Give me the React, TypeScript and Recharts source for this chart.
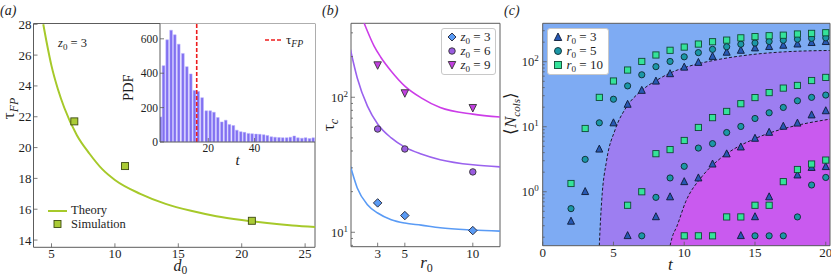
import React from "react";
import {
  ComposedChart,
  Line,
  Scatter,
  Bar,
  Area,
  XAxis,
  YAxis,
  CartesianGrid,
  ReferenceLine,
  ReferenceArea,
  Legend,
} from "recharts";

const SERIF = '"Liberation Serif", "Times New Roman", serif';
const INK = "#1e1e1e";
const FRAME = "#5c5c5c";

// (a) first-passage time against d0, z0 = 3
const theoryD = [4.35, 4.6, 5, 5.5, 6, 7, 8, 9, 10, 12, 14, 16, 18, 20, 22, 24, 25.8];
const theoryTau = [28.0, 26.9, 25.3, 23.8, 22.6, 20.8, 19.6, 18.6, 17.9, 17.0, 16.35, 15.9, 15.55, 15.3, 15.1, 14.95, 14.85];
const simD = [6.8, 10.8, 20.8];
const simTau = [21.7, 18.8, 15.25];
const dTicks = [5, 10, 15, 20, 25];
const tauTicks = [14, 16, 18, 20, 22, 24, 26, 28];

// inset: histogram of first-passage times
const pdfT = [
  -0.56, 0.73, 2.3, 4.0, 5.6, 7.3, 9.1, 10.8, 12.5, 14.1, 15.7, 17.4, 19.2, 20.9,
  22.5, 24.2, 25.9, 27.6, 29.2, 30.9, 32.4, 34.1, 35.7, 37.4, 39.0, 40.7, 42.3,
  44.0, 45.6, 47.3, 48.9, 50.6, 52.2, 53.9, 55.5, 57.2, 58.8, 60.5, 62.1, 63.8, 65.4,
];
const pdfCount = [
  146, 444, 594, 650, 623, 569, 515, 438, 396, 300, 294, 258, 181, 181, 173, 142,
  117, 127, 102, 96, 69, 60, 56, 50, 48, 46, 45, 42, 38, 30, 28, 26, 25, 25, 28,
  35, 24, 22, 25, 20, 24,
];
const tauFP = 15;
const pdfTicks = [0, 200, 400, 600];
const pdfTTicks = [20, 40];

// (b) tau_c against r0
const curveR = [1, 1.5, 2.25, 3, 4, 5, 6.2, 7.6, 10, 12];
const tauCZ3 = [30.8, 21.3, 16, 13.9, 12.4, 11.7, 11.3, 10.8, 10.4, 10.2];
const tauCZ6 = [225, 139, 86, 63.4, 50, 42.7, 38, 34.5, 31.6, 30.5];
const curveRZ9 = [2.0, 2.25, 2.74, 3.23, 4, 5, 6.2, 7.6, 10, 12];
const tauCZ9 = [355, 308, 239, 198, 156, 121, 99, 84, 75, 71.4];
const simR = [3, 5, 10];
const simZ3 = [16.5, 13.3, 10.3];
const simZ6 = [58.2, 41.4, 28];
const simZ9 = [174, 108, 84];
const rTicks = [3, 5, 10];
const tauCTicks = [8, 9, 10, 20, 30, 40, 50, 60, 70, 80, 90, 100, 200, 300];

// (c) <N_cols> against t
const tHi = [2, 3, 4, 5, 6, 7, 8, 9, 10, 11, 12, 13, 14, 15, 16, 17, 18, 19, 20];
const triHi = [0.35, 1.0, 4.5, 11.4, 22, 36, 50, 65, 82, 97, 120, 139, 149, 162, 170, 178, 186, 196, 203];
const cirHi = [0.55, 3.15, 11.5, 26.5, 42.5, 63, 84, 101, 119, 138, 155, 170, 186, 194, 205, 214, 222, 229, 233];
const sqHi = [1.34, 9.4, 28.3, 50.5, 74.5, 101, 127, 150, 168, 187, 203, 215, 233, 243, 251, 256, 267, 273, 279];
const tMidSq = [6, 7, 8, 9, 10, 11, 12, 13, 14, 15, 16, 17, 18, 19, 20];
const sqMid = [0.62, 1.0, 3.85, 4.45, 6.15, 9.75, 13.8, 17.2, 22.6, 28.1, 33.5, 39.3, 43.2, 51.4, 57.4];
const tMidCir = [7, 8, 9, 10, 11, 12, 13, 14, 15, 16, 17, 18, 19, 20];
const cirMid = [0.21, 0.82, 1.63, 2.46, 4.7, 5.5, 8.15, 10.1, 13.4, 16.4, 19.8, 25.1, 28.3, 30.7];
const tMidTri = [6, 8, 9, 10, 11, 12, 13, 14, 15, 16, 17, 18, 19, 20];
const triMid = [0.21, 0.41, 0.83, 1.42, 1.62, 2.65, 3.8, 4.85, 6.6, 8.15, 10.1, 11.3, 15.1, 17.5];
const tLoSq = [10, 11, 12, 13, 14, 15, 16, 17, 18, 19, 20];
const sqLo = [0.21, 0.21, 0.21, 0.41, 0.41, 0.62, 0.62, 1.43, 2.2, 2.67, 3.07];
const tLoCir = [15, 16, 17, 18, 19, 20];
const cirLo = [0.21, 0.21, 0.21, 0.41, 1.27, 1.66];
const tLoTri = [14, 15, 16, 18, 19, 20];
const triLo = [0.21, 0.41, 0.83, 1.8, 2.35, 2.42];
const edgeUpT = [4.0, 4.08, 4.17, 4.52, 5.11, 5.93, 6.88, 8.06, 9.2, 10.4, 12.4, 14.8, 17.1, 20.3];
const edgeUpN = [0.148, 0.35, 0.74, 3.07, 8.9, 20.3, 34.5, 52, 70, 86, 108, 129, 142, 149];
const edgeLoT = [9.0, 9.15, 9.47, 10.1, 11.24, 12.41, 13.59, 14.77, 15.94, 17.12, 18.3, 20.3];
const edgeLoN = [0.148, 0.2, 0.29, 0.7, 1.7, 3.07, 4.65, 6.24, 7.9, 9.45, 10.9, 13.1];
const tTicks = [0, 5, 10, 15, 20];
const nTicks = [
  0.2, 0.3, 0.4, 0.5, 0.6, 0.7, 0.8, 0.9, 1, 2, 3, 4, 5, 6, 7, 8, 9, 10, 20, 30,
  40, 50, 60, 70, 80, 90, 100, 200, 300,
];

const zip = (xs: number[], ys: number[]) => xs.map((x, i) => ({ x, y: ys[i] }));

// ---------- markers ----------
type MP = { cx: number; cy: number; s: number; fill: string; stroke: string };
const Sq = ({ cx, cy, s, fill, stroke }: MP) => (
  <rect x={cx - s / 2} y={cy - s / 2} width={s} height={s} fill={fill} stroke={stroke} strokeWidth={0.9} />
);
const Dot = ({ cx, cy, s, fill, stroke }: MP) => (
  <circle cx={cx} cy={cy} r={s / 2} fill={fill} stroke={stroke} strokeWidth={0.9} />
);
const TriUp = ({ cx, cy, s, fill, stroke }: MP) => (
  <polygon
    points={`${cx},${cy - s * 0.6} ${cx - s / 2},${cy + s * 0.4} ${cx + s / 2},${cy + s * 0.4}`}
    fill={fill}
    stroke={stroke}
    strokeWidth={0.9}
  />
);
const TriDown = ({ cx, cy, s, fill, stroke }: MP) => (
  <polygon
    points={`${cx},${cy + s * 0.6} ${cx - s / 2},${cy - s * 0.4} ${cx + s / 2},${cy - s * 0.4}`}
    fill={fill}
    stroke={stroke}
    strokeWidth={0.9}
  />
);
const Diamond = ({ cx, cy, s, fill, stroke }: MP) => (
  <polygon
    points={`${cx},${cy - s / 2} ${cx + s / 2},${cy} ${cx},${cy + s / 2} ${cx - s / 2},${cy}`}
    fill={fill}
    stroke={stroke}
    strokeWidth={0.9}
  />
);
const shapeOf =
  (M: (p: MP) => React.ReactElement, s: number, fill: string, stroke: string) =>
  (p: any) =>
    <M cx={p.cx} cy={p.cy} s={s} fill={fill} stroke={stroke} />;

// ---------- ticks (inward, like matplotlib) ----------
const sup = (v: number) => (
  <>
    <tspan>10</tspan>
    <tspan dy={-5} fontSize={9}>
      {Math.round(Math.log10(v))}
    </tspan>
  </>
);

function yTick(gap: number, size: number, majors?: number[], log?: boolean) {
  return (p: any) => {
    const v = p.payload.value;
    const major = !majors || majors.includes(v);
    const x0 = p.x + gap;
    return (
      <g>
        <line x1={x0} x2={x0 + (major ? 4 : 2)} y1={p.y} y2={p.y} stroke={FRAME} strokeWidth={0.8} />
        {major && (
          <text x={p.x} y={p.y} dy="0.35em" textAnchor="end" fontSize={size} fontFamily={SERIF} fill={INK}>
            {log ? sup(v) : v}
          </text>
        )}
      </g>
    );
  };
}

function xTick(gap: number, size: number) {
  return (p: any) => {
    const y0 = p.y - gap;
    return (
      <g>
        <line x1={p.x} x2={p.x} y1={y0} y2={y0 - 4} stroke={FRAME} strokeWidth={0.8} />
        <text x={p.x} y={p.y} dy="0.78em" textAnchor="middle" fontSize={size} fontFamily={SERIF} fill={INK}>
          {p.payload.value}
        </text>
      </g>
    );
  };
}

// ---------- axis titles ----------
const yTitle = (dx: number, dyc: number, body: React.ReactNode, size = 17) => (p: any) => {
  const vb = p.viewBox;
  const cx = vb.x + dx;
  const cy = vb.y + vb.height / 2 + dyc;
  return (
    <text
      x={cx}
      y={cy}
      textAnchor="middle"
      fontFamily={SERIF}
      fontSize={size}
      fill={INK}
      transform={`rotate(-90 ${cx} ${cy})`}
    >
      {body}
    </text>
  );
};
const xTitle = (dxc: number, dy: number, body: React.ReactNode, size = 17) => (p: any) => {
  const vb = p.viewBox;
  return (
    <text x={vb.x + vb.width / 2 + dxc} y={vb.y + dy} textAnchor="middle" fontFamily={SERIF} fontSize={size} fill={INK}>
      {body}
    </text>
  );
};

// ---------- legends ----------
type LegItem = { key: string; icon: React.ReactNode; label: React.ReactNode };
const sub0 = <span style={{ fontSize: "0.7em", position: "relative", top: 3 }}>0</span>;

function LegendBox({ items, boxed, size, rowH, iconW }: { items: LegItem[]; boxed: boolean; size: number; rowH: number; iconW: number }) {
  return (
    <div
      style={{
        background: boxed ? "#fff" : "transparent",
        border: boxed ? "1px solid #c8c8c8" : "none",
        borderRadius: 3,
        padding: boxed ? "1px 5px 2px 4px" : 0,
        fontFamily: SERIF,
        fontSize: size,
        color: INK,
        lineHeight: `${rowH}px`,
      }}
    >
      {items.map((it) => (
        <div key={it.key} style={{ display: "flex", alignItems: "center", whiteSpace: "nowrap", height: rowH }}>
          <svg width={iconW} height={12} style={{ marginRight: 3, flex: "none" }}>
            {it.icon}
          </svg>
          <span>{it.label}</span>
        </div>
      ))}
    </div>
  );
}

// ---------- colours ----------
const GREEN_LINE = "#a6c92a";
const GREEN_SQ = "#aacb36";
const B_BLUE = "#5a9bf5";
const B_PURPLE = "#9a62ee";
const B_MAGENTA = "#cc3de8";
const C_TRI = "#2759b4";
const C_CIR = "#1b97a6";
const C_SQ = "#34e39a";
const BG_BLUE = "#7eabf3";
const BG_PURPLE = "#9d7ef1";
const BG_MAGENTA = "#c95aef";

// ================= panel (a) =================
function PanelA() {
  const theory = zip(theoryD, theoryTau);
  const sim = zip(simD, simTau);
  const items: LegItem[] = [
    { key: "th", icon: <line x1={1} x2={20} y1={6} y2={6} stroke={GREEN_LINE} strokeWidth={2} />, label: "Theory" },
    { key: "sim", icon: <Sq cx={10.5} cy={6} s={7} fill={GREEN_SQ} stroke="#3d4a10" />, label: "Simulation" },
  ];
  return (
    <ComposedChart width={316} height={276} margin={{ top: 23.5, right: 1, bottom: 0, left: 0 }}>
      <XAxis
        type="number"
        dataKey="x"
        domain={[3.58, 25.78]}
        allowDataOverflow
        ticks={dTicks}
        interval={0}
        height={28.7}
        tickSize={0}
        tickMargin={1}
        tickLine={false}
        axisLine={false}
        tick={xTick(1, 13)}
        label={xTitle(6, 23.7, <tspan fontStyle="italic">d<tspan fontSize={11.5} dy={3} fontStyle="normal">0</tspan></tspan>, 16)}
      />
      <YAxis
        type="number"
        dataKey="y"
        domain={[13.53, 28.05]}
        allowDataOverflow
        ticks={tauTicks}
        interval={0}
        width={33.5}
        tickSize={0}
        tickMargin={2}
        tickLine={false}
        axisLine={false}
        tick={yTick(2, 13)}
        label={yTitle(14, -27, <>τ<tspan fontSize={12} dy={4} fontStyle="italic">FP</tspan></>)}
      />
      <Line
        data={theory}
        dataKey="y"
        type="monotone"
        stroke={GREEN_LINE}
        strokeWidth={2}
        dot={false}
        isAnimationActive={false}
      />
      <Scatter data={sim} dataKey="y" shape={shapeOf(Sq, 7, GREEN_SQ, "#3d4a10")} isAnimationActive={false} />
      <ReferenceArea x1={3.58} x2={25.78} y1={13.53} y2={28.05} fill="none" stroke={FRAME} strokeWidth={1} />
      <Legend
        layout="vertical"
        align="center"
        verticalAlign="middle"
        wrapperStyle={{ left: 47, top: 204, width: "auto" }}
        content={() => <LegendBox items={items} boxed={false} size={12.5} rowH={13.5} iconW={21} />}
      />
    </ComposedChart>
  );
}

function InsetA() {
  const hist = pdfT.map((t, i) => ({ x: t, y: pdfCount[i] }));
  const items: LegItem[] = [
    {
      key: "fp",
      icon: <line x1={0} x2={17} y1={6} y2={6} stroke="#ee1c1c" strokeWidth={1.6} strokeDasharray="4 2" />,
      label: (
        <span>
          τ<span style={{ fontSize: "0.75em", fontStyle: "italic", position: "relative", top: 3 }}>FP</span>
        </span>
      ),
    },
  ];
  return (
    <ComposedChart data={hist} width={196} height={170} margin={{ top: 23.5, right: 1, bottom: 0, left: 0 }}>
      <CartesianGrid fill="#fff" horizontal={false} vertical={false} />
      <XAxis
        type="number"
        dataKey="x"
        domain={[-0.86, 66.1]}
        allowDataOverflow
        ticks={pdfTTicks}
        interval={0}
        height={28}
        tickSize={0}
        tickMargin={1}
        tickLine={false}
        axisLine={{ stroke: FRAME }}
        tick={xTick(1, 11.5)}
        label={xTitle(0, 23, <tspan fontStyle="italic">t</tspan>, 15)}
      />
      <YAxis
        type="number"
        domain={[0, 689]}
        allowDataOverflow
        ticks={pdfTicks}
        interval={0}
        width={40}
        tickSize={0}
        tickMargin={2}
        tickLine={false}
        axisLine={{ stroke: FRAME }}
        tick={yTick(2, 11.5)}
        label={yTitle(13, 5, "PDF", 14.5)}
      />
      <Bar
        dataKey="y"
        barSize={3}
        fill="#8170f1"
        stroke="#b9b0ff"
        strokeWidth={0.5}
        isAnimationActive={false}
      />
      <ReferenceLine x={tauFP} stroke="#ee1c1c" strokeWidth={1.6} strokeDasharray="4 2" />
      <Legend
        layout="vertical"
        align="center"
        verticalAlign="middle"
        wrapperStyle={{ left: 145, top: 33, width: "auto" }}
        content={() => <LegendBox items={items} boxed={false} size={13} rowH={14} iconW={18} />}
      />
    </ComposedChart>
  );
}

// ================= panel (b) =================
function PanelB() {
  const items: LegItem[] = [
    { key: "z3", icon: <Diamond cx={6} cy={6} s={8} fill={B_BLUE} stroke="#223" />, label: <span><i>z</i>{sub0} = 3</span> },
    { key: "z6", icon: <Dot cx={6} cy={6} s={6.5} fill="#9a5ce0" stroke="#333" />, label: <span><i>z</i>{sub0} = 6</span> },
    { key: "z9", icon: <TriDown cx={6} cy={5.5} s={7.5} fill="#c23fe0" stroke="#333" />, label: <span><i>z</i>{sub0} = 9</span> },
  ];
  return (
    <ComposedChart width={201} height={276} margin={{ top: 23.3, right: 1, bottom: 0, left: 0 }}>
      <XAxis
        type="number"
        dataKey="x"
        domain={[1.04, 12.0]}
        allowDataOverflow
        ticks={rTicks}
        interval={0}
        height={29.3}
        tickSize={0}
        tickMargin={1}
        tickLine={false}
        axisLine={false}
        tick={xTick(1, 13)}
        label={xTitle(1, 21.5, <tspan fontStyle="italic">r<tspan fontSize={12} dy={3.5} fontStyle="normal">0</tspan></tspan>)}
      />
      <YAxis
        type="number"
        dataKey="y"
        scale="log"
        domain={[7.82, 353]}
        allowDataOverflow
        ticks={tauCTicks}
        interval={0}
        width={51}
        tickSize={0}
        tickMargin={3}
        tickLine={false}
        axisLine={false}
        tick={yTick(3, 12.5, [10, 100], true)}
        label={yTitle(34, -10, <>τ<tspan fontSize={12} dy={4} fontStyle="italic">c</tspan></>)}
      />
      <Line data={zip(curveR, tauCZ3)} dataKey="y" type="monotone" stroke={B_BLUE} strokeWidth={1.6} dot={false} isAnimationActive={false} />
      <Line data={zip(curveR, tauCZ6)} dataKey="y" type="monotone" stroke={B_PURPLE} strokeWidth={1.6} dot={false} isAnimationActive={false} />
      <Line data={zip(curveRZ9, tauCZ9)} dataKey="y" type="monotone" stroke={B_MAGENTA} strokeWidth={1.6} dot={false} isAnimationActive={false} />
      <Scatter data={zip(simR, simZ3)} dataKey="y" shape={shapeOf(Diamond, 8.5, B_BLUE, "#223")} isAnimationActive={false} />
      <Scatter data={zip(simR, simZ6)} dataKey="y" shape={shapeOf(Dot, 6.5, "#9a5ce0", "#333")} isAnimationActive={false} />
      <Scatter data={zip(simR, simZ9)} dataKey="y" shape={shapeOf(TriDown, 7.5, "#c23fe0", "#333")} isAnimationActive={false} />
      <ReferenceArea x1={1.04} x2={12.0} y1={7.82} y2={353} fill="none" stroke={FRAME} strokeWidth={1} />
      <Legend
        layout="vertical"
        align="center"
        verticalAlign="middle"
        wrapperStyle={{ left: 140.5, top: 28, width: "auto" }}
        content={() => <LegendBox items={items} boxed size={13} rowH={14} iconW={12} />}
      />
    </ComposedChart>
  );
}

// ================= panel (c) =================
function PanelC() {
  const tri = [...zip(tHi, triHi), ...zip(tMidTri, triMid), ...zip(tLoTri, triLo)];
  const cir = [...zip(tHi, cirHi), ...zip(tMidCir, cirMid), ...zip(tLoCir, cirLo)];
  const sq = [...zip(tHi, sqHi), ...zip(tMidSq, sqMid), ...zip(tLoSq, sqLo)];
  const items: LegItem[] = [
    { key: "r3", icon: <TriUp cx={6} cy={6.5} s={7.5} fill={C_TRI} stroke="#0d1a33" />, label: <span><i>r</i>{sub0} = 3</span> },
    { key: "r5", icon: <Dot cx={6} cy={6} s={7} fill={C_CIR} stroke="#0d2a30" />, label: <span><i>r</i>{sub0} = 5</span> },
    { key: "r10", icon: <Sq cx={6} cy={6} s={7} fill={C_SQ} stroke="#0f4a33" />, label: <span><i>r</i>{sub0} = 10</span> },
  ];
  return (
    <ComposedChart width={331} height={276} margin={{ top: 23.3, right: 1, bottom: 0, left: 0 }}>
      <CartesianGrid fill={BG_BLUE} horizontal={false} vertical={false} />
      <XAxis
        type="number"
        dataKey="x"
        domain={[0, 20.3]}
        allowDataOverflow
        ticks={tTicks}
        interval={0}
        height={30.3}
        tickSize={0}
        tickMargin={1}
        tickLine={false}
        axisLine={false}
        tick={xTick(1, 13)}
        label={xTitle(-16, 24, <tspan fontStyle="italic">t</tspan>)}
      />
      <YAxis
        type="number"
        dataKey="y"
        scale="log"
        domain={[0.148, 390]}
        allowDataOverflow
        ticks={nTicks}
        interval={0}
        width={42.7}
        tickSize={0}
        tickMargin={4}
        tickLine={false}
        axisLine={false}
        tick={yTick(4, 12.5, [1, 10, 100], true)}
        label={yTitle(16, -21, (
          <>
            ⟨<tspan fontStyle="italic">N</tspan>
            <tspan fontSize={11} dy={4} fontStyle="italic">cols</tspan>
            <tspan dy={-4}>⟩</tspan>
          </>
        ))}
      />
      <Area
        data={zip(edgeUpT, edgeUpN)}
        dataKey="y"
        type="monotone"
        fill={BG_PURPLE}
        fillOpacity={1}
        stroke="#1a1a2a"
        strokeWidth={1}
        strokeDasharray="3 2"
        isAnimationActive={false}
      />
      <Area
        data={zip(edgeLoT, edgeLoN)}
        dataKey="y"
        type="monotone"
        fill={BG_MAGENTA}
        fillOpacity={1}
        stroke="#1a1a2a"
        strokeWidth={1}
        strokeDasharray="3 2"
        isAnimationActive={false}
      />
      <Scatter data={tri} dataKey="y" shape={shapeOf(TriUp, 7, C_TRI, "#0d1a33")} isAnimationActive={false} />
      <Scatter data={cir} dataKey="y" shape={shapeOf(Dot, 6.2, C_CIR, "#0d2a30")} isAnimationActive={false} />
      <Scatter data={sq} dataKey="y" shape={shapeOf(Sq, 6.2, C_SQ, "#0f4a33")} isAnimationActive={false} />
      <ReferenceArea x1={0} x2={20.3} y1={0.148} y2={390} fill="none" stroke={FRAME} strokeWidth={1} />
      <Legend
        layout="vertical"
        align="center"
        verticalAlign="middle"
        wrapperStyle={{ left: 46.5, top: 28.3, width: "auto" }}
        content={() => <LegendBox items={items} boxed size={13} rowH={14} iconW={12} />}
      />
    </ComposedChart>
  );
}

export default function App() {
  return (
    <div
      style={{
        position: "absolute",
        left: 0,
        top: 0,
        width: 831,
        height: 276,
        background: "#fff",
        overflow: "hidden",
        fontFamily: SERIF,
      }}
    >
      <div style={{ position: "absolute", left: 0, top: 0 }}>
        <PanelA />
      </div>
      <div style={{ position: "absolute", left: 120, top: 0 }}>
        <InsetA />
      </div>
      <div style={{ position: "absolute", left: 300, top: 0 }}>
        <PanelB />
      </div>
      <div style={{ position: "absolute", left: 500, top: 0 }}>
        <PanelC />
      </div>
      <svg
        width={831}
        height={276}
        style={{ position: "absolute", left: 0, top: 0, pointerEvents: "none" }}
        fontFamily={SERIF}
        fill={INK}
      >
        <text x={0} y={15} fontSize={14} fontStyle="italic">(a)</text>
        <text x={322} y={15} fontSize={14} fontStyle="italic">(b)</text>
        <text x={504} y={15} fontSize={14} fontStyle="italic">(c)</text>
        <text x={58} y={47} fontSize={12.5}>
          <tspan fontStyle="italic">z</tspan>
          <tspan fontSize={9} dy={3}>0</tspan>
          <tspan dy={-3}> = 3</tspan>
        </text>
      </svg>
    </div>
  );
}
